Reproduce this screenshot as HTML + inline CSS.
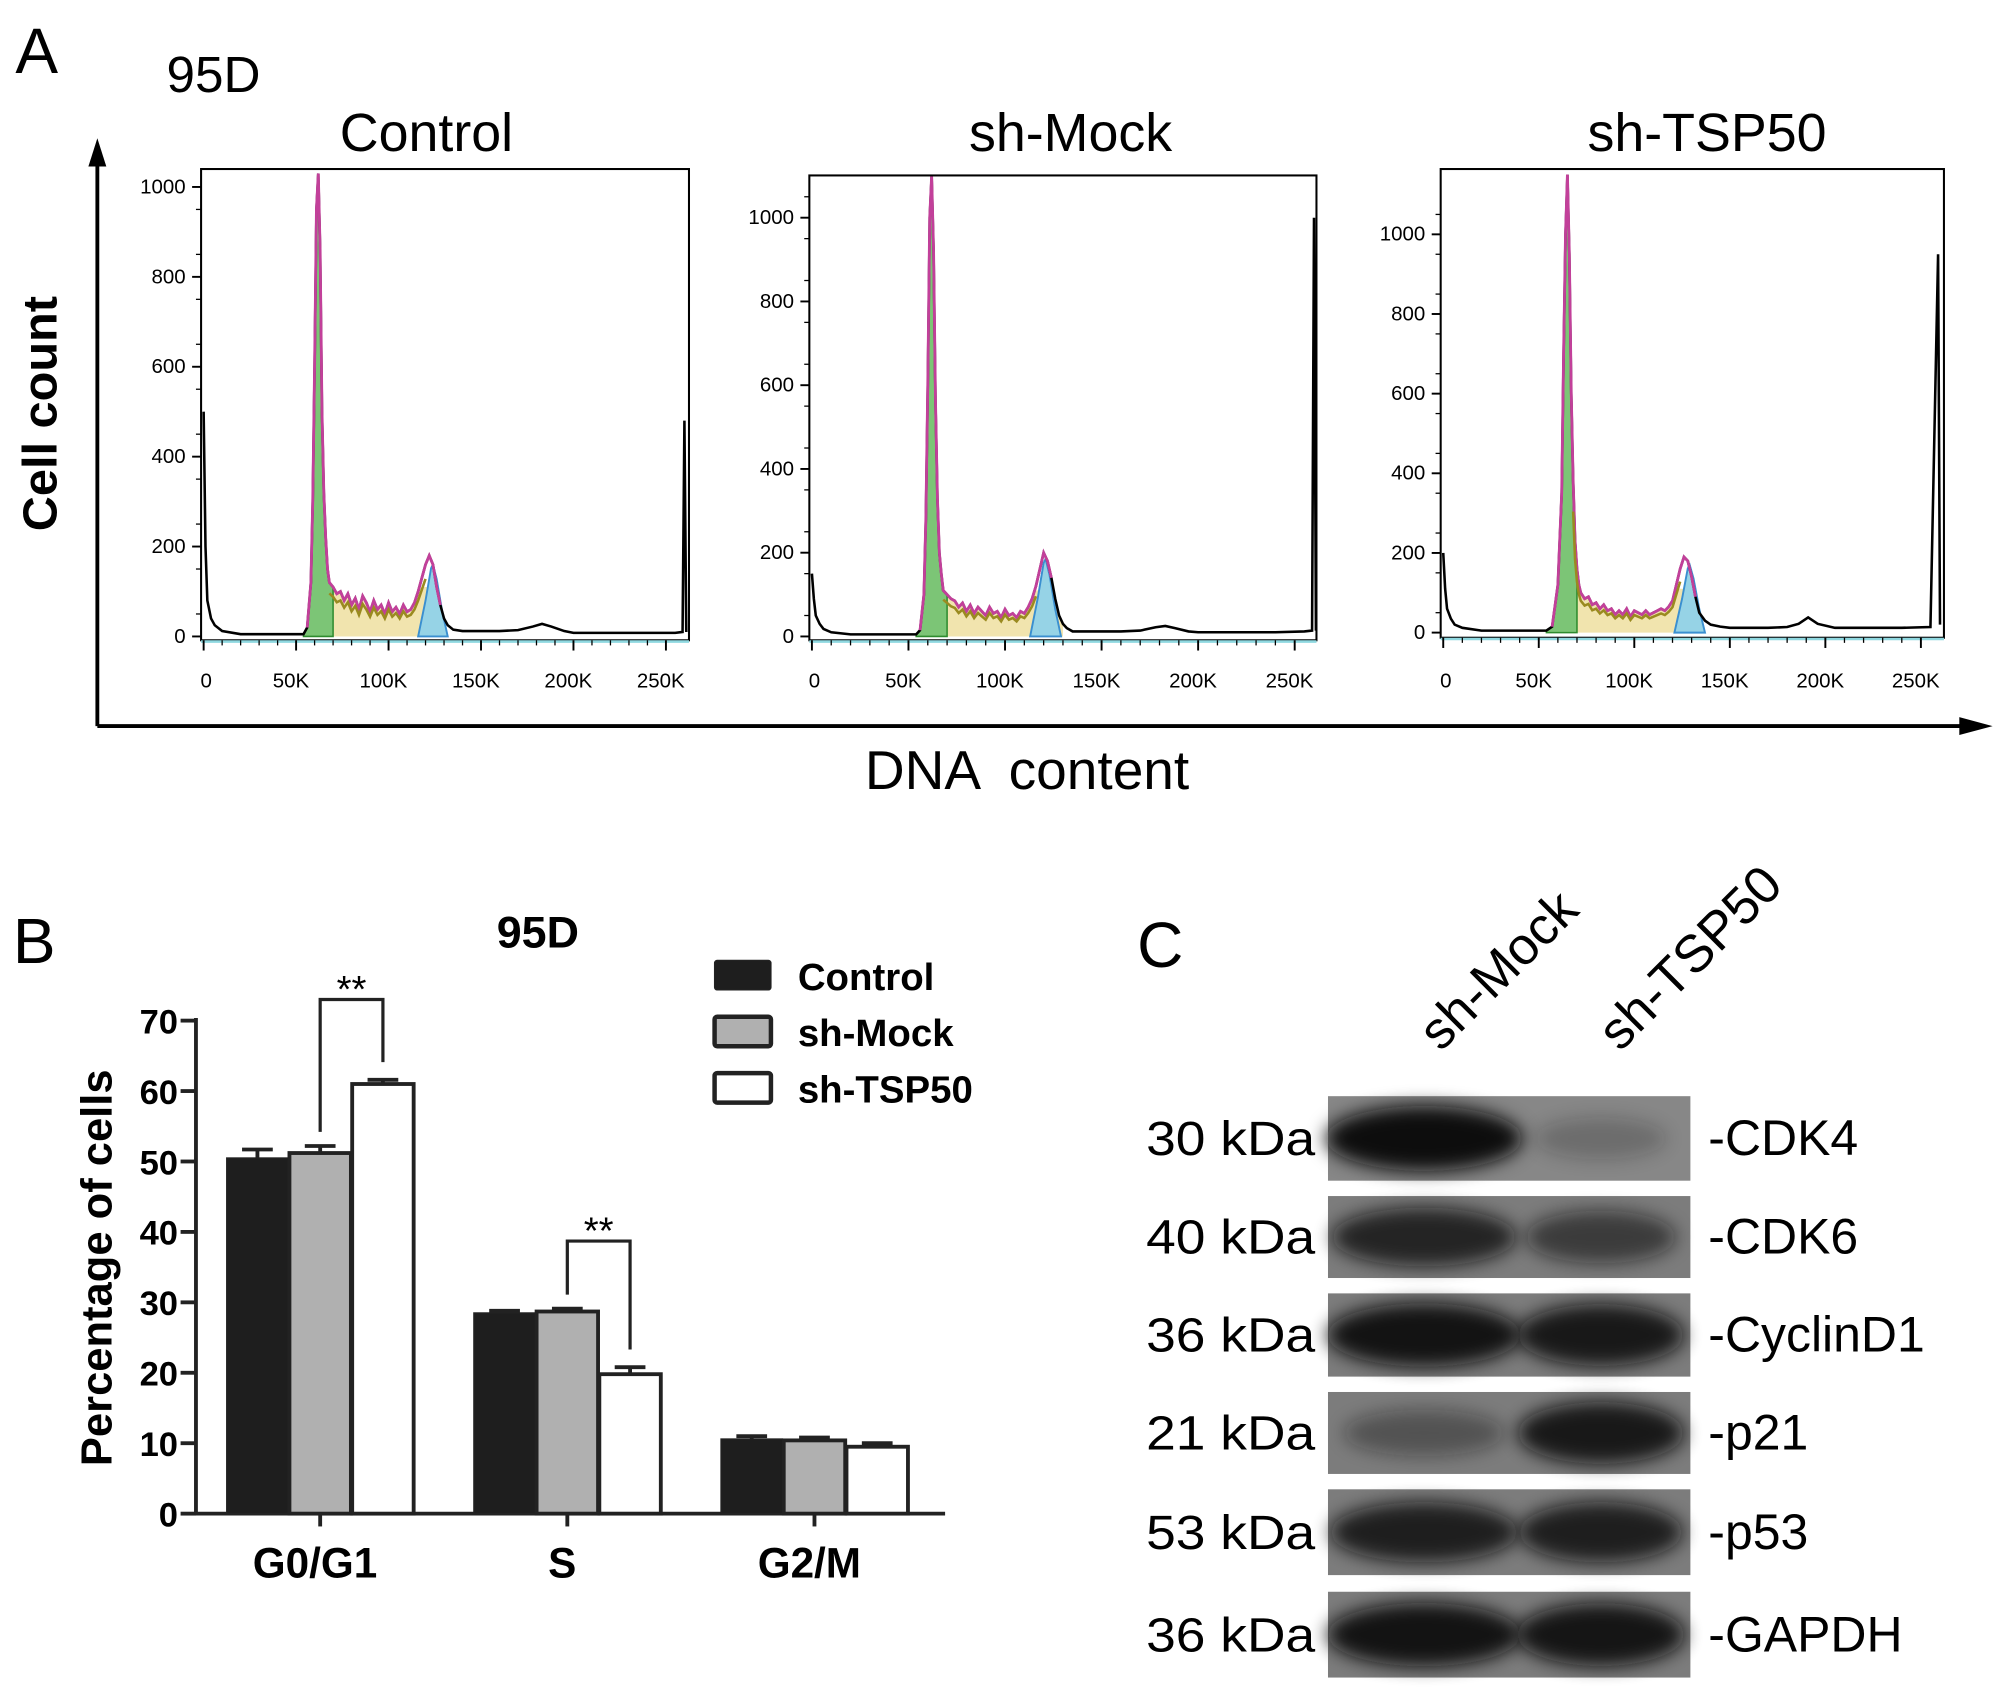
<!DOCTYPE html>
<html><head><meta charset="utf-8"><style>
html,body{margin:0;padding:0;background:#fff;}
svg{display:block;}
text{font-family:"Liberation Sans",Arial,sans-serif;}
.nar{font-family:"Liberation Sans Narrow","Liberation Sans",sans-serif;}
</style></head><body>
<svg id="fig" width="2008" height="1691" viewBox="0 0 1568 1320.5" xmlns="http://www.w3.org/2000/svg">
<defs>
<filter id="blur" x="-30%" y="-60%" width="160%" height="220%"><feGaussianBlur stdDeviation="7"/></filter>
</defs>
<text x="12" y="57" font-size="50">A</text>
<text x="130" y="72" font-size="40">95D</text>
<g>
<line x1="76" y1="125" x2="76" y2="567" stroke="#000" stroke-width="3"/>
<polygon points="76,108 69,130 83,130" fill="#000"/>
<line x1="76" y1="567" x2="1535" y2="567" stroke="#000" stroke-width="3"/>
<polygon points="1556,567 1530,560 1530,574" fill="#000"/>
</g>
<text transform="translate(44,323) rotate(-90)" text-anchor="middle" font-size="38" font-weight="bold">Cell count</text>
<text x="802" y="616" text-anchor="middle" font-size="43" xml:space="preserve">DNA  content</text>
<g id="panelA"></g>
<text x="10" y="752" font-size="50">B</text>
<g id="panelB"></g>
<text x="888" y="755" font-size="50">C</text>
<g id="panelC"></g>
</svg>
<script>
const NS="http://www.w3.org/2000/svg";
function mk(parent,tag,attrs,txt){const e=document.createElementNS(NS,tag);for(const k in attrs)e.setAttribute(k,attrs[k]);if(txt!==undefined)e.textContent=txt;parent.appendChild(e);return e;}

/* ---------- Panel A data (x in K, counts) ---------- */
const histTitles=["Control","sh-Mock","sh-TSP50"];
const yTicksA=[[0,200,400,600,800,1000],[0,200,400,600,800,1000],[0,200,400,600,800,1000]];
const xTicksA=[0,50,100,150,200,250];
const xTickLabelsA=["0","50K","100K","150K","200K","250K"];
const ctrlX=[0,1,2,4,6,10,20,40,54,56,58,59,60,61,62,63,64,65,66,67,68,70,72,74,76,78,80,82,84,86,88,90,92,94,96,98,100,102,104,106,108,110,112,114,116,118,120,122,124,126,128,130,132,135,140,150,160,170,178,183,188,195,200,220,240,255,259,260,261];
const ctrlY=[500,200,80,40,25,12,5,5,5,20,120,300,600,950,1030,860,500,320,220,150,120,110,95,100,80,95,70,85,60,90,75,55,80,60,70,50,75,55,65,50,70,55,60,75,100,130,160,180,160,110,70,40,25,15,12,12,12,14,22,28,22,12,8,8,8,8,10,480,10];
const mockX=[0,1,2,4,6,10,20,40,54,56,58,59,60,61,62,63,64,65,66,67,68,70,72,74,76,78,80,82,84,86,88,90,92,94,96,98,100,102,104,106,108,110,112,114,116,118,120,122,124,126,128,130,132,135,140,150,160,170,178,183,188,195,200,220,240,255,259,260,261];
const mockY=[150,90,50,30,18,10,5,5,5,15,100,280,600,1000,1100,920,560,330,200,150,110,100,90,85,70,80,60,75,55,70,60,50,70,55,60,45,65,50,55,45,60,55,70,90,120,160,200,180,140,90,50,30,20,12,12,12,12,14,22,25,20,12,10,10,10,12,14,1000,14];
const tspX=[0,1,2,4,6,10,20,40,54,57,60,62,63,64,65,66,67,68,69,70,71,72,74,76,78,80,82,84,86,88,90,92,94,96,98,100,102,104,106,108,110,112,114,116,118,120,122,124,126,128,130,132,134,137,140,145,150,160,170,180,186,191,196,205,220,240,255,259,260,261];
const tspY=[200,110,60,35,20,12,5,5,5,15,120,350,700,1000,1150,950,600,380,230,160,120,100,85,90,70,75,60,70,55,60,45,55,45,60,40,55,50,45,55,45,50,55,60,55,65,80,120,160,190,180,140,90,50,30,20,15,12,12,12,14,22,38,22,12,12,12,14,950,20];
const histX=[ctrlX,mockX,tspX];
const histY=[ctrlY,mockY,tspY];
const g2Center=[124,121,129];
const g2Height=[160,185,170];

const boxesA=[
 {l:157,r:538,t:132,b:500,x0:159,x250:520,y0:497,y1000:146,title:333},
 {l:632,r:1028,t:137,b:500,x0:634,x250:1011,y0:497,y1000:170,title:836},
 {l:1125,r:1518,t:132,b:498,x0:1127,x250:1500,y0:494,y1000:183,title:1333}
];
const gA=document.getElementById('panelA');
boxesA.forEach((B,i)=>{
 const xs=v=>B.x0+v*(B.x250-B.x0)/250;
 const ys=v=>B.y0-v*(B.y0-B.y1000)/1000;
 const g=mk(gA,'g',{});
 
 
 const t=mk(g,'text',{x:B.title,y:118,'text-anchor':'middle','font-size':42},histTitles[i]);
 
 
 const X=histX[i],Y=histY[i];
 let sp=[];for(let k=0;k<X.length;k++){if(X[k]>=60&&X[k]<=130)sp.push(xs(X[k])+','+ys(Math.min(Y[k],110)));}
 const sx0=xs(60),sx1=xs(130);
 const sFill=mk(g,'polygon',{points:sx0+','+ys(0)+' '+sp.join(' ')+' '+sx1+','+ys(0),fill:'#eedd9a',opacity:0.8});
 
 
 let gp=[];for(let k=0;k<X.length;k++){if(X[k]>=54&&X[k]<=70)gp.push(xs(X[k])+','+ys(Y[k]));}
 const g1=mk(g,'polygon',{points:xs(54)+','+ys(0)+' '+gp.join(' ')+' '+xs(70)+','+ys(0),fill:'#7cc576',stroke:'#2e8b2e','stroke-width':1.2});
 
 
 const c=g2Center[i],h=g2Height[i];
 const g2=mk(g,'polygon',{points:[xs(c-8)+','+ys(0),xs(c-4)+','+ys(h*0.5),xs(c-1)+','+ys(h*0.95),xs(c)+','+ys(h),xs(c+2)+','+ys(h*0.8),xs(c+5)+','+ys(h*0.35),xs(c+8)+','+ys(0)].join(' '),fill:'#96d3e6',stroke:'#3a8fd0','stroke-width':1.5});
 
 
 let all=X.map((x,k)=>xs(x)+','+ys(Y[k])).join(' ');
 const line=mk(g,'polyline',{points:all,fill:'none',stroke:'#000','stroke-width':2});
 
 
 let mg=[];for(let k=0;k<X.length;k++){if(X[k]>=56&&X[k]<=c+4)mg.push(xs(X[k])+','+ys(Y[k]));}
 const ml=mk(g,'polyline',{points:mg.join(' '),fill:'none',stroke:'#c2409a','stroke-width':2.2});
 
 
 let br=[];for(let k=0;k<X.length;k++){if(X[k]>=68&&X[k]<=c-4)br.push(xs(X[k])+','+ys(Y[k]*0.8));}
 const bl=mk(g,'polyline',{points:br.join(' '),fill:'none',stroke:'#9a8a20','stroke-width':2});
 
 
 const box=mk(g,'rect',{x:B.l,y:B.t,width:B.r-B.l,height:B.b-B.t,fill:'none',stroke:'#000','stroke-width':1.6});
 
 
 mk(g,'line',{x1:B.l,y1:B.b+1,x2:B.r,y2:B.b+1,stroke:'#8fd8e0','stroke-width':2});
 yTicksA[i].forEach(v=>{
  mk(g,'line',{x1:B.l-7,y1:ys(v),x2:B.l,y2:ys(v),stroke:'#000','stroke-width':1.5});
  const tl=mk(g,'text',{x:B.l-12,y:ys(v)+5,'text-anchor':'end','font-size':16},String(v));
  
  
 });
 for(let v=50;v<=1050;v+=100){if(ys(v)>B.t)mk(g,'line',{x1:B.l-4,y1:ys(v),x2:B.l,y2:ys(v),stroke:'#000','stroke-width':1});}
 xTicksA.forEach((v,j)=>{
  mk(g,'line',{x1:xs(v),y1:B.b,x2:xs(v),y2:B.b+8,stroke:'#000','stroke-width':1.5});
  const tl=mk(g,'text',{x:xs(v)-(j==0?-2:4),y:537,'text-anchor':'middle','font-size':16},xTickLabelsA[j]);
  
  
 });
 for(let v=10;v<260;v+=10){if(v%50)mk(g,'line',{x1:xs(v),y1:B.b,x2:xs(v),y2:B.b+4,stroke:'#000','stroke-width':1});}
});

/* ---------- Panel B data ---------- */
const phases=["G0/G1","S","G2/M"];
const groups=["Control","sh-Mock","sh-TSP50"];
const valControl=[50.5,28.5,10.6];
const valMock=[51.2,28.7,10.4];
const valTSP=[61.0,19.8,9.5];
const errControl=[1.2,0.3,0.4];
const errMock=[1.0,0.4,0.4];
const errTSP=[0.6,1.0,0.5];
const yTicksB=[0,10,20,30,40,50,60,70];
const seriesB=[valControl,valMock,valTSP];
const errB=[errControl,errMock,errTSP];
const fillsB=['#1e1e1e','#b0b0b0','#ffffff'];

const gB=document.getElementById('panelB');
const yB=v=>1182-v*(1182-797)/70;
const xB=(gi,si)=>177+gi*193+si*49;
const bw=48;
const tt=mk(gB,'text',{x:420,y:740,'text-anchor':'middle','font-size':35,'font-weight':'bold'},'95D');


const yt=mk(gB,'text',{transform:'translate(87,990) rotate(-90)','text-anchor':'middle','font-size':34,'font-weight':'bold'},'Percentage of cells');


mk(gB,'line',{x1:153,y1:795,x2:153,y2:1183,stroke:'#222','stroke-width':3});
mk(gB,'line',{x1:152,y1:1182,x2:738,y2:1182,stroke:'#222','stroke-width':3});
yTicksB.forEach(v=>{
 mk(gB,'line',{x1:141,y1:yB(v),x2:153,y2:yB(v),stroke:'#222','stroke-width':3});
 const tl=mk(gB,'text',{x:139,y:yB(v)+10,'text-anchor':'end','font-size':27,'font-weight':'bold'},String(v));
 
 
});
phases.forEach((p,gi)=>{
 seriesB.forEach((s,si)=>{
  const x=xB(gi,si),v=s[gi],e=errB[si][gi];
  mk(gB,'line',{x1:x+bw/2,y1:yB(v),x2:x+bw/2,y2:yB(v+e),stroke:'#222','stroke-width':3});
  mk(gB,'line',{x1:x+bw/2-12,y1:yB(v+e),x2:x+bw/2+12,y2:yB(v+e),stroke:'#222','stroke-width':3});
  const r=mk(gB,'rect',{x:x,y:yB(v),width:bw,height:yB(0)-yB(v),fill:fillsB[si],stroke:'#222','stroke-width':si==0?1:3});
  
  
 });
 const cx=xB(gi,1)+bw/2;
 mk(gB,'line',{x1:cx,y1:1182,x2:cx,y2:1192,stroke:'#222','stroke-width':3});
 const xl=mk(gB,'text',{x:cx-4,y:1232,'text-anchor':'middle','font-size':33,'font-weight':'bold'},p);
 
 
});
[[0,12],[1,10]].forEach(([gi,pad])=>{
 const x1=xB(gi,1)+bw/2, x2=xB(gi,2)+bw/2;
 const top=yB(Math.max(seriesB[1][gi],seriesB[2][gi])+pad);
 const b1=yB(seriesB[1][gi]+errB[1][gi]+2), b2=yB(seriesB[2][gi]+errB[2][gi]+2.5);
 const pl=mk(gB,'polyline',{points:`${x1},${b1} ${x1},${top} ${x2},${top} ${x2},${b2}`,fill:'none',stroke:'#222','stroke-width':2.5});
 
 
 const st=mk(gB,'text',{x:(x1+x2)/2,y:top+2,'text-anchor':'middle','font-size':30},'**');
 
 
});
groups.forEach((gname,si)=>{
 const y=750+si*44;
 const r=mk(gB,'rect',{x:558,y:y,width:44,height:23,fill:fillsB[si],stroke:'#222','stroke-width':si==0?1:3.5,rx:2});
 
 
 const t=mk(gB,'text',{x:623,y:y+23,'font-size':30,'font-weight':'bold'},gname);
 
 
});

/* ---------- Panel C (western blot) ---------- */
const proteins=["CDK4","CDK6","CyclinD1","p21","p53","GAPDH"];
const kdas=["30 kDa","40 kDa","36 kDa","21 kDa","53 kDa","36 kDa"];
const bandMock=[0.95,0.75,0.9,0.35,0.8,0.9];
const bandTSP=[0.2,0.55,0.85,0.85,0.8,0.88];
const rowsTop=[856,934,1010,1087,1163,1243];
const rowH=[66,64,65,64,67,67];
const gC=document.getElementById('panelC');
const lm=mk(gC,'text',{transform:'translate(1125,822) rotate(-45)','font-size':41,class:'nar'},'sh-Mock');


const lt=mk(gC,'text',{transform:'translate(1265,822) rotate(-45)','font-size':41,class:'nar'},'sh-TSP50');


proteins.forEach((p,i)=>{
 const y=rowsTop[i],h=rowH[i];
 const g=mk(gC,'g',{});
 
 
 mk(g,'rect',{x:1037,y:y,width:283,height:h,fill:i==0?'#878787':'#7c7c7c'});
 const cy=y+h/2;
 [[1112,bandMock[i],78],[1250,bandTSP[i],68]].forEach(([cx,a,rw])=>{
  const e=mk(g,'ellipse',{cx:cx,cy:cy,rx:rw*(0.7+0.3*a),ry:14+12*a,fill:'#0a0a0a',opacity:Math.min(1,a*1.05),filter:'url(#blur)'});
  
  
 });
 const kt=mk(gC,'text',{x:1027,y:cy+13,'text-anchor':'end','font-size':38,textLength:132,lengthAdjust:'spacingAndGlyphs',class:'nar'},kdas[i]);
 
 
 const pt=mk(gC,'text',{x:1334,y:cy+13,'font-size':39,class:'nar'},'-'+p);
 
 
});
</script>
</body></html>
